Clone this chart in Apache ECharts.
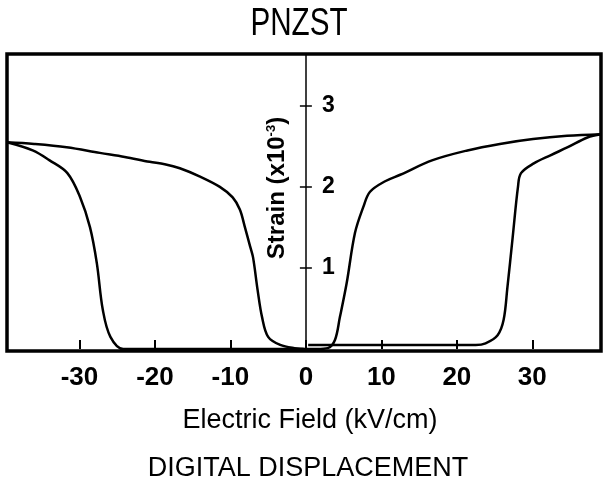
<!DOCTYPE html>
<html>
<head>
<meta charset="utf-8">
<script src="https://cdn.jsdelivr.net/npm/echarts@6/dist/echarts.min.js"></script>
<style>html,body{margin:0;padding:0;background:#fff;}#c{width:603px;height:497px;}</style>
</head>
<body>
<div id="c"></div>
<script>
var titleText = 'PNZST';
var xName = 'Electric Field (kV/cm)';
var subName = 'DIGITAL DISPLACEMENT';
var xTicks = [-30, -20, -10, 0, 10, 20, 30];
var yTicks = [1, 2, 3];

// Branch A: left outer (descending) + right inner (from zero rising)
var aX = [-39.6, -36, -31.7, -27.3, -24, -20.7, -18.7, -16.7, -14.1, -11.4, -9.7, -8.75, -8.1, -7.4, -7.0, -6.4, -5.8, -5.0, -3.4, -1.5, 0, 1.5, 2.9, 3.85, 4.5, 5.4, 6.5, 7.6, 8.5, 10.5, 12.5, 16.8, 21.4, 25.7, 30.1, 34.6, 39.1];
var aY = [2.55, 2.53, 2.49, 2.42, 2.37, 2.31, 2.28, 2.23, 2.13, 2.0, 1.87, 1.72, 1.51, 1.27, 1.13, 0.73, 0.39, 0.15, 0.05, 0.01, 0, 0, 0.01, 0.11, 0.39, 0.81, 1.43, 1.75, 1.94, 2.07, 2.15, 2.33, 2.45, 2.53, 2.59, 2.63, 2.65];
// Branch B: left inner
var bX = [-39.6, -36.2, -34, -31.6, -29.9, -28.6, -27.7, -26.9, -25.9, -24.2, -20, -10, -0.3];
var bY = [2.55, 2.45, 2.33, 2.17, 1.87, 1.50, 1.06, 0.48, 0.15, 0.0, 0, 0, 0];
// Branch C: right flat + rising
var cX = [0.3, 10, 20, 22.5, 23.8, 25.4, 26.2, 26.7, 27.4, 28.1, 28.5, 30.2, 32.4, 34.7, 37.3, 39.1];
var cY = [0.05, 0.05, 0.05, 0.05, 0.07, 0.17, 0.36, 0.76, 1.38, 2.0, 2.17, 2.29, 2.39, 2.49, 2.61, 2.65];

var xMin = -39.6, xMax = 39.1, yMin = -0.025, yMax = 3.64;
var gridLeft = 7, gridRight = 2, gridWidth = 603 - gridLeft - gridRight;
var zeroOffset = -((0 - xMin) / (xMax - xMin) * gridWidth);

function zip(xs, ys) { return xs.map(function (v, i) { return [v, ys[i]]; }); }

var chart = echarts.init(document.getElementById('c'));
var lineStyle = { color: '#000', width: 2.5 };
var reg = '"Liberation Sans", Arial, sans-serif';

chart.setOption({
  backgroundColor: '#fff',
  animation: false,
  grid: { left: gridLeft, right: gridRight, top: 54, bottom: 146, show: true, borderColor: '#000', borderWidth: 3.5, backgroundColor: 'transparent' },
  xAxis: {
    type: 'value', min: xMin, max: xMax,
    axisLine: { show: false },
    splitLine: { show: false },
    axisTick: { show: true, inside: true, length: 9, customValues: xTicks, lineStyle: { color: '#000', width: 2 } },
    axisLabel: { customValues: xTicks, color: '#000', fontFamily: reg, fontSize: 26, fontWeight: 'bold', margin: 14 }
  },
  yAxis: [{
    type: 'value', min: yMin, max: yMax, position: 'left',
    axisLine: { show: true, onZero: true, lineStyle: { color: '#000', width: 1.5 } },
    splitLine: { show: false },
    axisTick: { show: true, inside: false, length: 6, customValues: yTicks, lineStyle: { color: '#000', width: 1.5 } },
    axisLabel: { show: false }
  }, {
    type: 'value', min: yMin, max: yMax, position: 'left', offset: zeroOffset,
    axisLine: { show: false, onZero: false },
    splitLine: { show: false },
    axisTick: { show: true, inside: true, length: 6, customValues: yTicks, lineStyle: { color: '#000', width: 1.5 } },
    axisLabel: { show: true, inside: true, customValues: yTicks, margin: 16, color: '#000', fontFamily: reg, fontSize: 23, fontWeight: 'bold' }
  }],
  series: [
    { type: 'line', data: zip(aX, aY), showSymbol: false, smooth: 0.35, lineStyle: lineStyle, z: 3 },
    { type: 'line', data: zip(bX, bY), showSymbol: false, smooth: 0.35, lineStyle: lineStyle, z: 3 },
    { type: 'line', data: zip(cX, cY), showSymbol: false, smooth: 0.35, lineStyle: lineStyle, z: 3 }
  ],
  graphic: [
    { type: 'text', x: 299, y: 24, scaleX: 0.76, style: { text: titleText, font: '39px ' + reg, fill: '#000', align: 'center', verticalAlign: 'middle' } },
    { type: 'text', x: 310, y: 421, style: { text: xName, font: '27px ' + reg, fill: '#000', align: 'center', verticalAlign: 'middle' } },
    { type: 'text', x: 308, y: 469, style: { text: subName, font: '27px ' + reg, fill: '#000', align: 'center', verticalAlign: 'middle' } },
    { type: 'text', x: 277, y: 188, rotation: Math.PI / 2, style: {
        text: 'Strain (x10{sup|-3})', font: 'bold 24px ' + reg, fill: '#000', align: 'center', verticalAlign: 'middle',
        rich: { sup: { fontSize: 13, fontFamily: reg, fontWeight: 'bold', verticalAlign: 'top', padding: [0, 0, 10, 0] } }
      } }
  ]
});
</script>
</body>
</html>
